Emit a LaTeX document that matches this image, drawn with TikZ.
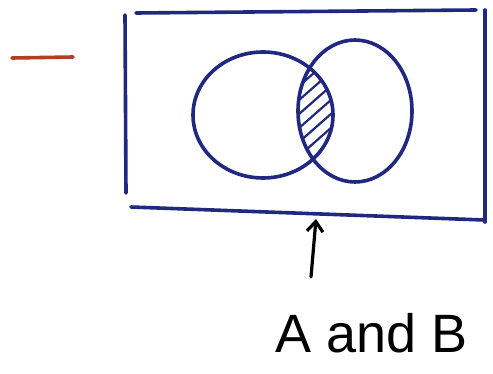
\documentclass[tikz,border=0pt]{standalone}
\usepackage{fontspec}
\setmainfont{Liberation Sans}
\usetikzlibrary{arrows.meta}
\definecolor{ink}{RGB}{32,40,128}
\definecolor{redink}{RGB}{178,62,36}
\begin{document}
\begin{tikzpicture}[x=1pt,y=-1pt,
  pen/.style={draw=ink,line width=3.6pt,line cap=round,line join=round},
  hatch/.style={draw=ink,line width=2.2pt,line cap=round},
  label/.style={font=\fontsize{54}{58}\selectfont,inner sep=0pt}]
\useasboundingbox (0,0) rectangle (493,374);
% red dash
\draw[redink,line width=3.6pt,line cap=round] (12,58) -- (73,57);
% rectangle (hand-drawn strokes)
\draw[pen] (125,15) -- (126,193);
\draw[pen] (136,13) -- (476,10);
\draw[pen] (485,10) -- (485,222);
\draw[pen] (131,207) -- (484,220);
% hatch in the intersection
\begin{scope}
  \clip (263,115) ellipse [x radius=70, y radius=63];
  \clip (355,111) ellipse [x radius=57, y radius=71];
  \foreach \y in {58,72,...,200} {
    \draw[hatch] (290,\y+22) -- (340,\y-22);
  }
\end{scope}
% circles
\draw[pen] (263,115) ellipse [x radius=70, y radius=63];
\draw[pen] (355,111) ellipse [x radius=57, y radius=71];
% label and arrow
\node[label] (ab) at (372,333) {A and B};
\coordinate (tip) at (316,219);
\draw[line width=3.2pt,line cap=round,-{Straight Barb[length=10pt,width=16pt]}] (311,277) -- (tip);
\end{tikzpicture}
\end{document}
